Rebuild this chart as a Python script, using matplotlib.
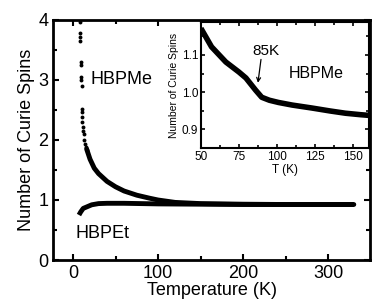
import matplotlib
matplotlib.use("Agg")
import matplotlib.pyplot as plt
from matplotlib.ticker import MultipleLocator

plt.rcParams['font.family'] = ['Liberation Sans', 'DejaVu Sans']

# HBPMe main: sparse low-T dots
me_dots_T = [8, 8, 8.5, 8.5, 9, 9, 9.5, 9.5, 10, 10, 10.5, 11, 11, 11.5, 12, 12.5, 13, 14, 15, 16]
me_dots_v = [3.97, 3.78, 3.72, 3.65, 3.3, 3.25, 3.05, 3.0, 2.9, 2.52, 2.46, 2.38, 2.3, 2.22, 2.15, 2.1, 2.0, 1.94, 1.88, 1.84]
# HBPMe main: dense curve
me_T = [16, 20, 25, 30, 40, 50, 60, 75, 90, 100, 120, 150, 200, 250, 300, 330]
me_v = [1.85, 1.68, 1.53, 1.44, 1.31, 1.22, 1.15, 1.08, 1.03, 1.0, 0.96, 0.94, 0.93, 0.925, 0.925, 0.925]
# HBPEt main
et_T = [7, 9, 12, 17, 22, 30, 40, 60, 100, 150, 200, 250, 300, 330]
et_v = [0.75, 0.80, 0.86, 0.89, 0.92, 0.94, 0.945, 0.945, 0.935, 0.93, 0.925, 0.925, 0.925, 0.925]
# Inset HBPMe
in_T = [50, 57, 66.4, 75, 79.6, 86, 90, 95, 101, 110, 123, 135, 145, 155, 161]
in_v = [1.172, 1.122, 1.081, 1.054, 1.038, 1.005, 0.986, 0.978, 0.972, 0.965, 0.957, 0.949, 0.943, 0.939, 0.937]

fig = plt.figure(figsize=(3.72, 3.01), dpi=100)
ax = fig.add_axes([0.1425, 0.1362, 0.8521, 0.7974])
ax.plot(me_T, me_v, color='black', lw=3.5, solid_capstyle='round')
ax.plot(me_dots_T, me_dots_v, 'o', color='black', ms=2.8, mec='none', clip_on=False)
ax.plot(et_T, et_v, color='black', lw=3.5, solid_capstyle='butt')
ax.set_xlim(-23.5, 349)
ax.set_ylim(0, 4)
ax.xaxis.set_major_locator(MultipleLocator(100))
ax.xaxis.set_minor_locator(MultipleLocator(50))
ax.yaxis.set_major_locator(MultipleLocator(1))
ax.yaxis.set_minor_locator(MultipleLocator(0.5))
ax.tick_params(which='both', direction='in', top=True, right=True, width=1.5, labelsize=13)
ax.tick_params(which='major', length=4)
ax.tick_params(which='minor', length=3)
for s in ax.spines.values():
    s.set_linewidth(2)
ax.set_xlabel('Temperature (K)', fontsize=13, labelpad=0)
ax.set_ylabel('Number of Curie Spins', fontsize=13, labelpad=2)
ax.text(20, 3.0, 'HBPMe', fontsize=13, va='center', ha='left')
ax.text(2.4, 0.45, 'HBPEt', fontsize=13, va='center', ha='left')

ins = fig.add_axes([0.540, 0.508, 0.452, 0.419])
ins.plot(in_T, in_v, color='black', lw=4, solid_capstyle='butt')
ins.set_xlim(50, 160.5)
ins.set_ylim(0.849, 1.189)
ins.xaxis.set_major_locator(MultipleLocator(25))
ins.xaxis.set_minor_locator(MultipleLocator(12.5))
ins.yaxis.set_major_locator(MultipleLocator(0.1))
ins.yaxis.set_minor_locator(MultipleLocator(0.05))
ins.tick_params(which='both', direction='in', top=True, right=True, width=1.2, labelsize=8.5, pad=2)
ins.tick_params(which='major', length=3)
ins.tick_params(which='minor', length=2)
for s in ins.spines.values():
    s.set_linewidth(1.5)
ins.set_xlabel('T (K)', fontsize=8.5, labelpad=1)
ins.set_ylabel('Number of Curie Spins', fontsize=7.5, labelpad=2)
ins.text(108, 1.051, 'HBPMe', fontsize=11.5, va='center', ha='left')
ins.text(92.8, 1.111, '85K', fontsize=11, va='center', ha='center')
ins.annotate('', xy=(87.5, 1.025), xytext=(89.5, 1.088),
             arrowprops=dict(arrowstyle='->', color='black', lw=0.9, shrinkA=0, shrinkB=0,
                             mutation_scale=7))
fig.savefig('out.png', dpi=100)
